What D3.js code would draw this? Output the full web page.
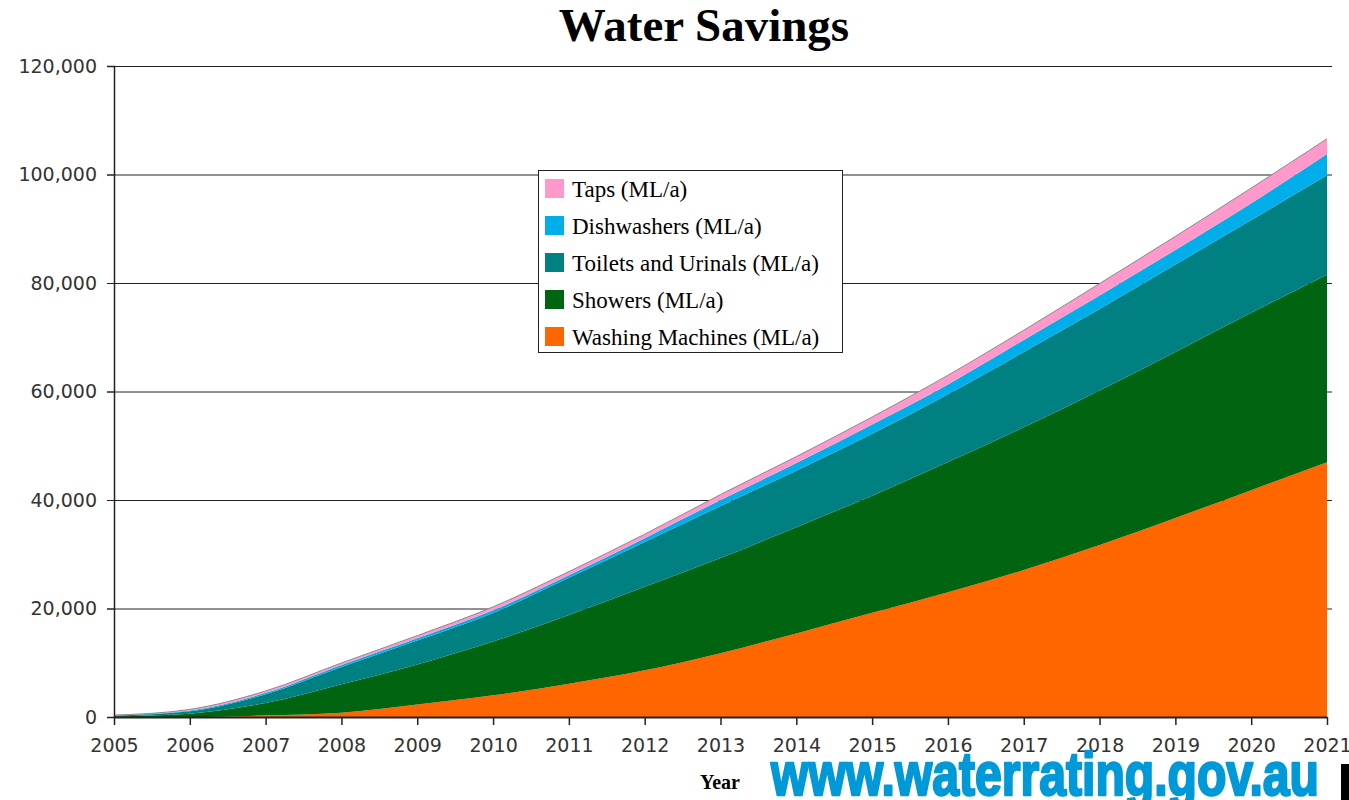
<!DOCTYPE html>
<html>
<head>
<meta charset="utf-8">
<script src="https://cdn.jsdelivr.net/npm/d3@7"></script>
<style>
  body { margin: 0; background: #fff; }
  svg { display: block; }
</style>
</head>
<body>
<script>
// years on the x axis
const years = [2005, 2006, 2007, 2008, 2009, 2010, 2011, 2012, 2013, 2014, 2015, 2016, 2017, 2018, 2019, 2020, 2021];

// yearly savings per appliance type (ML/a)
const washingMachines = [0, 0, 300, 800, 2300, 4000, 6150, 8600, 11750, 15400, 19200, 23000, 27100, 31700, 36700, 41800, 46950];
const showers = [120, 620, 2280, 5230, 7400, 9900, 12650, 15400, 17550, 19600, 21600, 24000, 26300, 28500, 30600, 32700, 34550];
const toilets = [150, 430, 1610, 3190, 4400, 5280, 6850, 8270, 9600, 10400, 11400, 12500, 13900, 15000, 16100, 17100, 18350];
const dishwashers = [30, 130, 260, 380, 400, 500, 500, 700, 1100, 1400, 1700, 1800, 2200, 2500, 2700, 3100, 3950];
const taps = [50, 220, 350, 360, 500, 620, 650, 730, 1000, 1200, 1400, 1700, 1800, 2200, 2500, 2800, 2800];

const seriesNames = ["Washing Machines (ML/a)", "Showers (ML/a)", "Toilets and Urinals (ML/a)", "Dishwashers (ML/a)", "Taps (ML/a)"];
const seriesKeys = ["washing", "showers", "toilets", "dishwashers", "taps"];
const seriesColors = ["#ff6600", "#006411", "#008080", "#00aeea", "#ff99cc"];

const yTicks = [0, 20000, 40000, 60000, 80000, 100000, 120000];

const width = 1349, height = 800;
const plot = {left: 114, right: 1327, top: 66, bottom: 717};

const table = years.map((yr, i) => ({
    year: yr,
    washing: washingMachines[i],
    showers: showers[i],
    toilets: toilets[i],
    dishwashers: dishwashers[i],
    taps: taps[i]
}));

const svg = d3.select("body")
    .append("svg")
    .attr("width", width)
    .attr("height", height);

const x = d3.scaleLinear().domain([2005, 2021]).range([plot.left, plot.right]);
const y = d3.scaleLinear().domain([0, 120000]).range([plot.bottom, plot.top]);

// title
svg.append("text")
    .attr("x", 704)
    .attr("y", 41)
    .attr("text-anchor", "middle")
    .attr("font-family", "'Liberation Serif', 'Times New Roman', serif")
    .attr("font-weight", "bold")
    .attr("font-size", 47)
    .attr("fill", "#000")
    .text("Water Savings");

// horizontal gridlines (behind the areas), with small ticks both sides
svg.append("g")
    .selectAll("line")
    .data(yTicks.filter(d => d > 0))
    .enter()
    .append("line")
    .attr("x1", plot.left - 7)
    .attr("x2", plot.right + 5)
    .attr("y1", d => y(d) + 0.5)
    .attr("y2", d => y(d) + 0.5)
    .attr("stroke", "#222")
    .attr("stroke-width", 1);

// stacked areas
const stacked = d3.stack().keys(seriesKeys)(table);
const area = d3.area()
    .curve(d3.curveMonotoneX)
    .x(d => x(d.data.year))
    .y0(d => y(d[0]))
    .y1(d => y(d[1]));

svg.append("g")
    .selectAll("path")
    .data(stacked)
    .enter()
    .append("path")
    .attr("d", area)
    .attr("fill", (d, i) => seriesColors[i]);

// thin grey outline along the top of the stack
svg.append("path")
    .datum(stacked[stacked.length - 1])
    .attr("d", d3.line().curve(d3.curveMonotoneX).x(d => x(d.data.year)).y(d => y(d[1])))
    .attr("fill", "none")
    .attr("stroke", "#8a8a8a")
    .attr("stroke-width", 1);

// y axis
const yAxis = svg.append("g")
    .attr("transform", `translate(${plot.left},0)`)
    .call(d3.axisLeft(y).tickValues(yTicks).tickFormat(d3.format(",")).tickSize(7).tickPadding(10));
yAxis.select(".domain").attr("stroke", "#222").attr("stroke-width", 1.5);
yAxis.selectAll(".tick line").attr("stroke", "#222");
yAxis.selectAll("text")
    .attr("font-family", "'DejaVu Sans', Verdana, sans-serif")
    .attr("font-size", 19)
    .attr("fill", "#333");

// x axis
const xAxis = svg.append("g")
    .attr("transform", `translate(0,${plot.bottom})`)
    .call(d3.axisBottom(x).tickValues(years).tickFormat(d3.format("d")).tickSize(8).tickSizeOuter(0).tickPadding(14));
xAxis.select(".domain").attr("stroke", "#222").attr("stroke-width", 2);
xAxis.selectAll(".tick line").attr("stroke", "#222").attr("stroke-width", 1.5);
xAxis.selectAll("text")
    .attr("font-family", "'DejaVu Sans', Verdana, sans-serif")
    .attr("font-size", 19)
    .attr("fill", "#333");

// axis title
svg.append("text")
    .attr("x", 720)
    .attr("y", 789)
    .attr("text-anchor", "middle")
    .attr("font-family", "'Liberation Serif', 'Times New Roman', serif")
    .attr("font-weight", "bold")
    .attr("font-size", 20)
    .attr("fill", "#000")
    .text("Year");

// legend (top series first)
const legend = svg.append("g").attr("transform", "translate(538,170)");
legend.append("rect")
    .attr("x", 0.5)
    .attr("y", 0.5)
    .attr("width", 304)
    .attr("height", 182)
    .attr("fill", "#fff")
    .attr("stroke", "#222")
    .attr("stroke-width", 1);

const legendOrder = d3.range(seriesNames.length).reverse();
const rows = legend.selectAll(".legendRow")
    .data(legendOrder)
    .enter()
    .append("g")
    .attr("class", "legendRow")
    .attr("transform", (d, i) => `translate(7,${9 + i * 37})`);
rows.append("rect")
    .attr("width", 19)
    .attr("height", 19)
    .attr("fill", d => seriesColors[d]);
rows.append("text")
    .attr("x", 27)
    .attr("y", 18)
    .attr("font-family", "'Liberation Serif', 'Times New Roman', serif")
    .attr("font-size", 23)
    .attr("fill", "#000")
    .text(d => seriesNames[d]);

// watermark
svg.append("text")
    .attr("x", 771)
    .attr("y", 795)
    .attr("textLength", 548)
    .attr("lengthAdjust", "spacingAndGlyphs")
    .attr("font-family", "'Liberation Sans', Arial, sans-serif")
    .attr("font-weight", "bold")
    .attr("font-size", 62)
    .attr("fill", "#0099d8")
    .attr("stroke", "#0099d8")
    .attr("stroke-width", 2.5)
    .attr("stroke-linejoin", "round")
    .text("www.waterrating.gov.au");

// cropped logo fragment at the right edge
svg.append("rect")
    .attr("x", 1341)
    .attr("y", 764)
    .attr("width", 8)
    .attr("height", 36)
    .attr("fill", "#000");
</script>
</body>
</html>
